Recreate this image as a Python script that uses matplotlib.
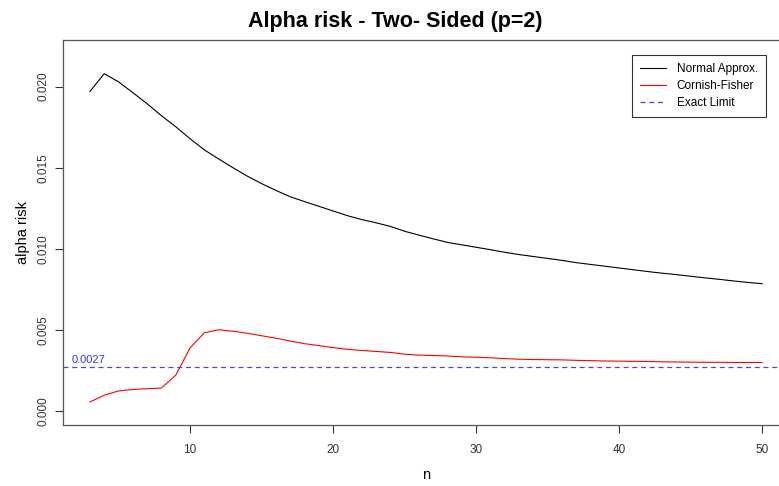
import matplotlib
matplotlib.use("Agg")
import matplotlib.pyplot as plt

plt.rcParams['font.family'] = ['Liberation Sans', 'DejaVu Sans']

n = list(range(3, 51))
normal_approx = [
    0.0197, 0.0208, 0.0203, 0.01963, 0.01895, 0.01821, 0.01753, 0.01679,
    0.0161, 0.01554, 0.0150, 0.01448, 0.01402, 0.0136, 0.01321, 0.01291,
    0.01262, 0.01233, 0.01204, 0.0118, 0.0116, 0.01138, 0.01108, 0.01084,
    0.01061, 0.01039, 0.01024, 0.01009, 0.00994, 0.00978, 0.00964, 0.00952,
    0.0094, 0.00928, 0.00914, 0.00903, 0.00892, 0.00881, 0.0087, 0.00859,
    0.00849, 0.0084, 0.0083, 0.0082, 0.00811, 0.00801, 0.00792, 0.00784,
]
cornish_fisher = [
    0.00054, 0.00096, 0.00122, 0.00131, 0.00136, 0.0014, 0.00219, 0.00387,
    0.00481, 0.0050, 0.00491, 0.00478, 0.00463, 0.00448, 0.0043, 0.00414,
    0.00402, 0.0039, 0.00379, 0.00372, 0.00366, 0.0036, 0.00349, 0.00343,
    0.00341, 0.00338, 0.00333, 0.0033, 0.00327, 0.00322, 0.00318, 0.00316,
    0.00315, 0.00314, 0.00311, 0.00309, 0.00307, 0.00306, 0.00305, 0.00304,
    0.00302, 0.00301, 0.0030, 0.00299, 0.00299, 0.00298, 0.00298, 0.00298,
]
exact_limit = 0.0027
x_ticks = [10, 20, 30, 40, 50]
y_ticks = [0.000, 0.005, 0.010, 0.015, 0.020]

fig = plt.figure(figsize=(7.79, 4.86), dpi=100)
ax = fig.add_axes([63 / 779, 61 / 486, 726 / 779, 385 / 486])

ax.plot(n, normal_approx, color='black', lw=0.8, label='Normal Approx.')
ax.plot(n, cornish_fisher, color='red', lw=0.8, label='Cornish-Fisher')
ax.axhline(exact_limit, color='#4444ff', lw=0.9, ls=(0, (4, 3)), label='Exact Limit')
ax.text(1.75, exact_limit + 0.00012, f"{exact_limit}", color='#3333ff',
        fontsize=8, ha='left', va='bottom')

ax.set_xlim(1.12, 51.88)
ax.set_ylim(0 - 0.022 * 0.04, 0.022 * 1.04)
ax.set_xticks(x_ticks)
ax.set_xticklabels([str(t) for t in x_ticks])
ax.set_yticks(y_ticks)
ax.set_yticklabels([f"{t:.3f}" for t in y_ticks], rotation=90, va='center')
ax.tick_params(direction='out', length=6, width=0.8, colors='#333333',
               labelsize=8.5)
ax.tick_params(axis='x', pad=8)
ax.tick_params(axis='y', pad=4)
for s in ax.spines.values():
    s.set_color('#555555')
    s.set_linewidth(0.9)

ax.set_xlabel('n', fontsize=10.5, labelpad=8)
ax.set_ylabel('alpha risk', fontsize=10.5, labelpad=5)
fig.text(395 / 779, 1 - 21 / 486, 'Alpha risk - Two- Sided (p=2)',
         fontsize=15.5, fontweight='bold', ha='center', va='center')

leg = ax.legend(loc='upper left', bbox_to_anchor=((632 - 63) / 726, 1 - 15 / 385),
                fontsize=8.5, frameon=True, fancybox=False, handlelength=2.2,
                borderpad=0.7, labelspacing=0.42, handletextpad=0.9,
                borderaxespad=0)
leg.get_frame().set_edgecolor('black')
leg.get_frame().set_linewidth(0.8)

fig.savefig('out.png', dpi=100)
